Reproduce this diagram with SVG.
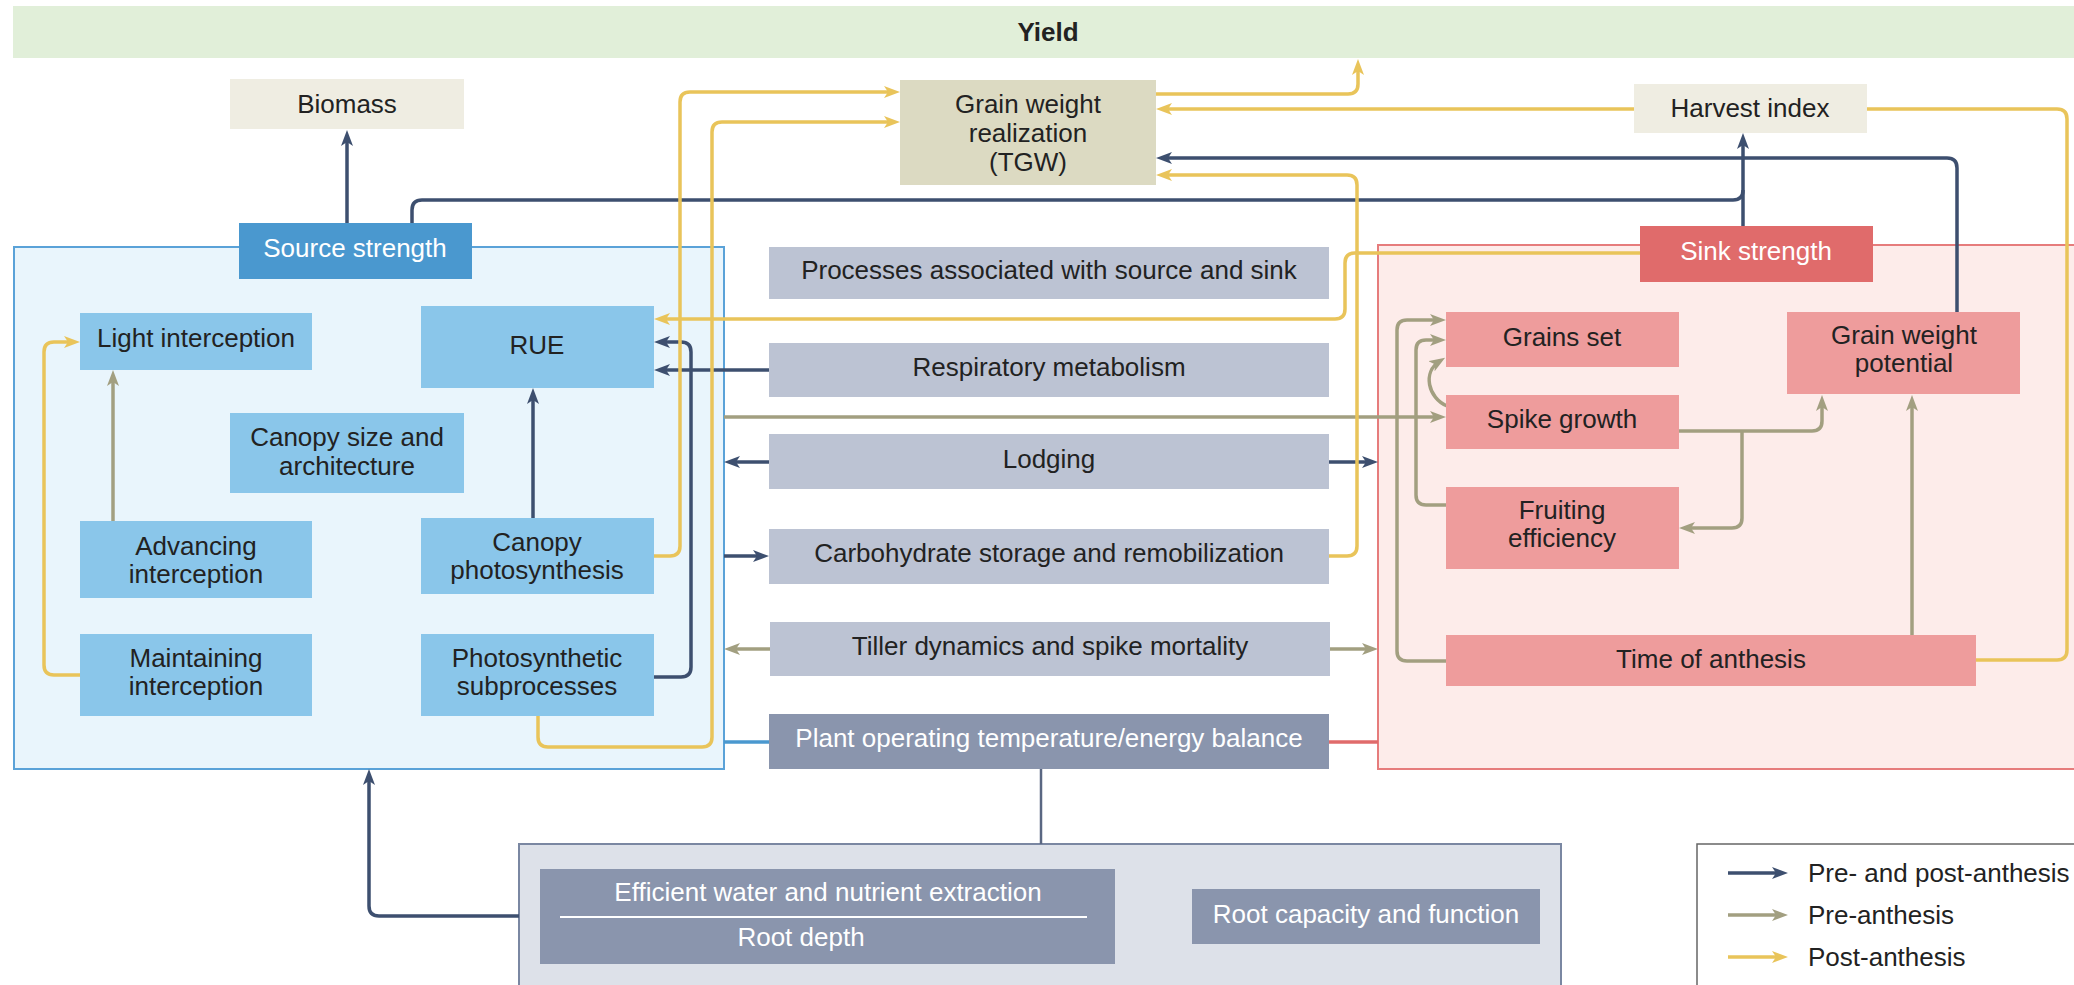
<svg xmlns="http://www.w3.org/2000/svg" width="2074" height="985" viewBox="0 0 2074 985">
<style>
text{font-family:"Liberation Sans",Arial,sans-serif;font-size:26px;fill:#222;text-anchor:middle}
.w{fill:#fff}
.b{font-weight:bold}
.lg{text-anchor:start}
.c{fill:none;stroke-width:3.5;stroke-linejoin:round}
.n{stroke:#3d4f6f}
.o{stroke:#a29f80}
.y{stroke:#e9c45a}
.an{marker-end:url(#mn)}
.ao{marker-end:url(#mo)}
.ay{marker-end:url(#my)}
.lb{fill:#8ac6ea}
.pr{fill:#bcc3d3}
.pk{fill:#ee9c9c}
.gr{fill:#8a95ad}
</style>
<defs>
<marker id="mn" viewBox="0 0 16 12" markerWidth="16" markerHeight="12" markerUnits="userSpaceOnUse" refX="10" refY="6" orient="auto"><path d="M0,0 L16,6 L0,12 L4,6 Z" fill="#3d4f6f"/></marker>
<marker id="mo" viewBox="0 0 16 12" markerWidth="16" markerHeight="12" markerUnits="userSpaceOnUse" refX="10" refY="6" orient="auto"><path d="M0,0 L16,6 L0,12 L4,6 Z" fill="#a29f80"/></marker>
<marker id="my" viewBox="0 0 16 12" markerWidth="16" markerHeight="12" markerUnits="userSpaceOnUse" refX="10" refY="6" orient="auto"><path d="M0,0 L16,6 L0,12 L4,6 Z" fill="#e9c45a"/></marker>
</defs>
<rect width="2074" height="985" fill="#fff"/>

<g id="yield"><rect x="13" y="6" width="2070" height="52" fill="#e1efd9"/><text class="b" x="1048" y="41">Yield</text></g>

<g id="source-container"><rect x="14" y="247" width="710" height="522" fill="#e9f5fc" stroke="#5aa2d8" stroke-width="2"/></g>
<g id="sink-container"><rect x="1378" y="245" width="720" height="524" fill="#fdecea" stroke="#e67c7c" stroke-width="2"/></g>
<g id="root-container"><rect x="519" y="844" width="1042" height="160" fill="#dde1e9" stroke="#7a87a2" stroke-width="2"/></g>

<g id="connectors">
<path class="c n an" d="M347,223 V136"/>
<path class="c n" d="M412,223 V210 Q412,200 422,200 H1733 Q1743,200 1743,190"/>
<path class="c n an" d="M1743,226 V139"/>
<path class="c n an" d="M1957,312 V168 Q1957,158 1947,158 H1162"/>
<path class="c n an" d="M654,677 H681 Q691,677 691,667 V352 Q691,342 681,342 H660"/>
<path class="c n an" d="M769,370 H660"/>
<path class="c n an" d="M533,518 V394"/>
<path class="c n an" d="M769,462 H730"/>
<path class="c n an" d="M1329,462 H1372"/>
<path class="c n an" d="M724,556 H763"/>
<path class="c n an" d="M519,916 H379 Q369,916 369,906 V775"/>
<path class="c n" style="stroke-width:2.5;stroke:#5a6782" d="M1041,769 V844"/>

<path class="c o ao" d="M113,521 V376"/>
<path class="c o ao" d="M724,417 H1440"/>
<path class="c o ao" d="M770,649 H730"/>
<path class="c o ao" d="M1330,649 H1372"/>
<path class="c o ao" d="M1446,661 H1407 Q1397,661 1397,651 V330 Q1397,320 1407,320 H1440"/>
<path class="c o ao" d="M1446,505 H1426 Q1416,505 1416,495 V350 Q1416,340 1426,340 H1440"/>
<path class="c o ao" d="M1447,406 C1428,398 1422,372 1440,361"/>
<path class="c o ao" d="M1679,431 H1812 Q1822,431 1822,421 V401"/>
<path class="c o ao" d="M1742,431 V518 Q1742,528 1732,528 H1685"/>
<path class="c o ao" d="M1912,636 V401"/>

<path class="c y ay" d="M80,675 H54 Q44,675 44,665 V352 Q44,342 54,342 H74"/>
<path class="c y ay" d="M654,556 H670 Q680,556 680,546 V102 Q680,92 690,92 H894"/>
<path class="c y ay" d="M538,716 V737 Q538,747 548,747 H702 Q712,747 712,737 V132 Q712,122 722,122 H894"/>
<path class="c y ay" d="M1156,94 H1348 Q1358,94 1358,84 V65"/>
<path class="c y ay" d="M1634,109 H1162"/>
<path class="c y" d="M1867,109 H2057 Q2067,109 2067,119 V650 Q2067,660 2057,660 H1976"/>
<path class="c y ay" d="M1329,556 H1347 Q1357,556 1357,546 V185 Q1357,175 1347,175 H1162"/>
<path class="c y ay" d="M1640,253 H1355 Q1345,253 1345,263 V309 Q1345,319 1335,319 H660"/>

<path class="c" stroke="#4a98cf" d="M724,742 H769"/>
<path class="c" stroke="#e06b6b" d="M1329,742 H1378"/>
</g>

<g id="biomass"><rect x="230" y="79" width="234" height="50" fill="#efede2"/><text x="347" y="113">Biomass</text></g>
<g id="grain-weight-realization"><rect x="900" y="80" width="256" height="105" fill="#dcdac2"/><text x="1028" y="113">Grain weight</text><text x="1028" y="142">realization</text><text x="1028" y="171">(TGW)</text></g>
<g id="harvest-index"><rect x="1634" y="84" width="233" height="49" fill="#efede2"/><text x="1750" y="117">Harvest index</text></g>

<g id="source-strength"><rect x="239" y="223" width="233" height="56" fill="#4a98cf"/><text class="w" x="355" y="257">Source strength</text></g>
<g id="light-interception"><rect class="lb" x="80" y="313" width="232" height="57"/><text x="196" y="347">Light interception</text></g>
<g id="rue"><rect class="lb" x="421" y="306" width="233" height="82"/><text x="537" y="354">RUE</text></g>
<g id="canopy-size"><rect class="lb" x="230" y="413" width="234" height="80"/><text x="347" y="446">Canopy size and</text><text x="347" y="475">architecture</text></g>
<g id="advancing-interception"><rect class="lb" x="80" y="521" width="232" height="77"/><text x="196" y="555">Advancing</text><text x="196" y="583">interception</text></g>
<g id="canopy-photosynthesis"><rect class="lb" x="421" y="518" width="233" height="76"/><text x="537" y="551">Canopy</text><text x="537" y="579">photosynthesis</text></g>
<g id="maintaining-interception"><rect class="lb" x="80" y="634" width="232" height="82"/><text x="196" y="667">Maintaining</text><text x="196" y="695">interception</text></g>
<g id="photosynthetic-subprocesses"><rect class="lb" x="421" y="634" width="233" height="82"/><text x="537" y="667">Photosynthetic</text><text x="537" y="695">subprocesses</text></g>

<g id="processes"><rect class="pr" x="769" y="247" width="560" height="52"/><text x="1049" y="279">Processes associated with source and sink</text></g>
<g id="respiratory"><rect class="pr" x="769" y="343" width="560" height="54"/><text x="1049" y="376">Respiratory metabolism</text></g>
<g id="lodging"><rect class="pr" x="769" y="434" width="560" height="55"/><text x="1049" y="468">Lodging</text></g>
<g id="carbohydrate"><rect class="pr" x="769" y="529" width="560" height="55"/><text x="1049" y="562">Carbohydrate storage and remobilization</text></g>
<g id="tiller"><rect class="pr" x="770" y="622" width="560" height="54"/><text x="1050" y="655">Tiller dynamics and spike mortality</text></g>
<g id="plant-temperature"><rect class="gr" x="769" y="714" width="560" height="55"/><text class="w" x="1049" y="747">Plant operating temperature/energy balance</text></g>

<g id="sink-strength"><rect x="1640" y="226" width="233" height="56" fill="#e06b6b"/><text class="w" x="1756" y="260">Sink strength</text></g>
<g id="grains-set"><rect class="pk" x="1446" y="312" width="233" height="55"/><text x="1562" y="346">Grains set</text></g>
<g id="grain-weight-potential"><rect class="pk" x="1787" y="312" width="233" height="82"/><text x="1904" y="344">Grain weight</text><text x="1904" y="372">potential</text></g>
<g id="spike-growth"><rect class="pk" x="1446" y="395" width="233" height="54"/><text x="1562" y="428">Spike growth</text></g>
<g id="fruiting-efficiency"><rect class="pk" x="1446" y="487" width="233" height="82"/><text x="1562" y="519">Fruiting</text><text x="1562" y="547">efficiency</text></g>
<g id="time-of-anthesis"><rect class="pk" x="1446" y="635" width="530" height="51"/><text x="1711" y="668">Time of anthesis</text></g>

<g id="root-extraction"><rect class="gr" x="540" y="869" width="575" height="95"/><text class="w" x="828" y="901">Efficient water and nutrient extraction</text><line x1="560" y1="917" x2="1087" y2="917" stroke="#fff" stroke-width="2"/><text class="w" x="801" y="946">Root depth</text></g>
<g id="root-capacity"><rect class="gr" x="1192" y="889" width="348" height="55"/><text class="w" x="1366" y="923">Root capacity and function</text></g>

<g id="legend">
<rect x="1697" y="844" width="400" height="160" fill="#fff" stroke="#666" stroke-width="1.5"/>
<path class="c n an" d="M1728,873 H1782"/>
<path class="c o ao" d="M1728,915 H1782"/>
<path class="c y ay" d="M1728,957 H1782"/>
<text class="lg" x="1808" y="882">Pre- and post-anthesis</text>
<text class="lg" x="1808" y="924">Pre-anthesis</text>
<text class="lg" x="1808" y="966">Post-anthesis</text>
</g>
</svg>
